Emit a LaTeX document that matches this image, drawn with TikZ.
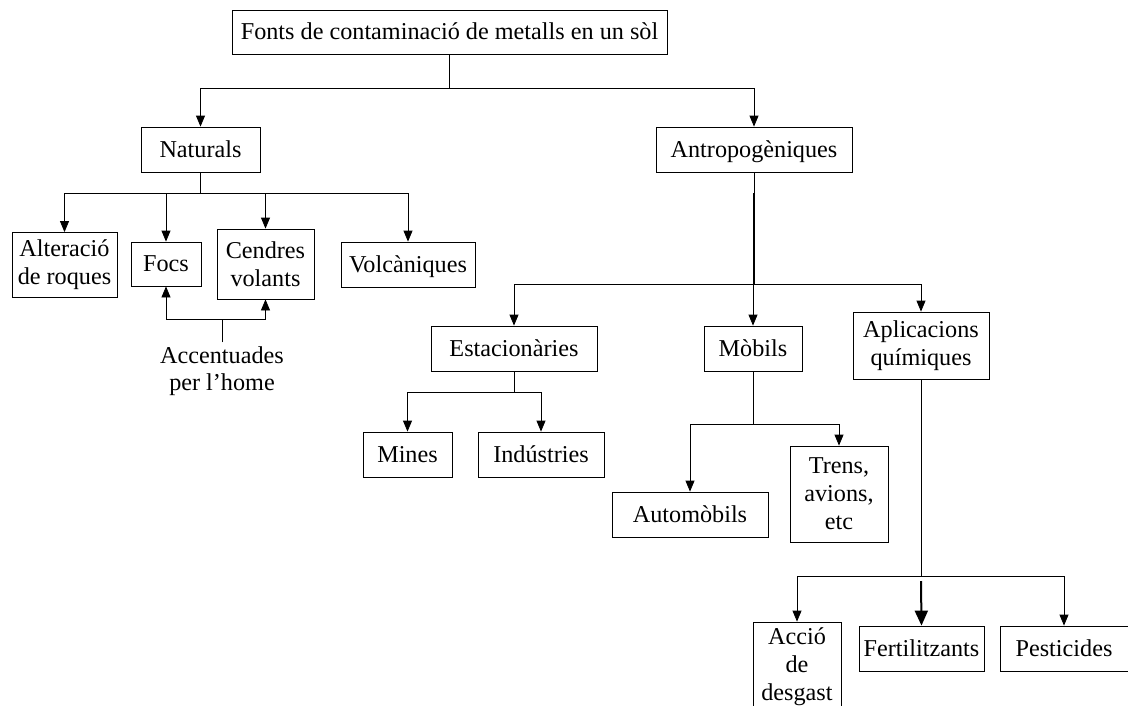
\documentclass[tikz,border=0pt]{standalone}
\usepackage{fontspec}
\setmainfont{Liberation Serif}
\usepackage{tikz}
\usetikzlibrary{arrows.meta,positioning}

\begin{document}
\begin{tikzpicture}[x=1pt, y=-1pt,
    box/.style={draw=black, line width=0.8pt, align=center, inner sep=0pt,
                font=\fontsize{24.2}{28}\selectfont},
    one/.style={box, text height=17pt, text depth=2pt},
    lbl/.style={align=center, inner sep=0pt, font=\fontsize{24.2}{27}\selectfont},
    ln/.style={line width=0.8pt},
    arr/.style={line width=0.8pt, -{Triangle[width=9pt,length=11pt]}},
    thk/.style={line width=2pt}]
   \useasboundingbox (0,0) rectangle (1128,705);
   \clip (0,0) rectangle (1128,705);

   % levels
   \node[one, minimum width=435, minimum height=44] (font) at (449.5,32) {Fonts de contaminació de metalls en un sòl};
   \node[one, minimum width=119, minimum height=45] (nat) at (200.5,149.5) {Naturals};
   \node[one, minimum width=196, minimum height=45] (ant) at (754,149.5) {Antropogèniques};

   \node[box, minimum width=105, minimum height=65] (alt) at (64.5,265) {Alteració\\de roques};
   \node[one, minimum width=70, minimum height=44] (focs) at (166,264) {Focs};
   \node[box, minimum width=97, minimum height=70] (cend) at (265.5,264) {Cendres\\volants};
   \node[one, minimum width=134, minimum height=45] (volc) at (408,264.5) {Volcàniques};
   \node[lbl] (home) at (222,371) {Accentuades\\per l’home};

   \node[one, minimum width=166, minimum height=45] (est) at (514,348.5) {Estacionàries};
   \node[one, minimum width=98, minimum height=45] (mob) at (753,348.5) {Mòbils};
   \node[box, minimum width=136, minimum height=67] (apl) at (921,345.5) {Aplicacions\\químiques};

   \node[one, minimum width=89, minimum height=45] (mines) at (407.5,454.5) {Mines};
   \node[one, minimum width=126, minimum height=45] (ind) at (541,454.5) {Indústries};
   \node[one, minimum width=156, minimum height=45] (auto) at (690,514.5) {Automòbils};
   \node[box, minimum width=98, minimum height=96] (trens) at (839,494) {Trens,\\avions,\\etc};

   \node[box, minimum width=88, minimum height=90] (accio) at (797,667) {Acció\\de\\desgast};
   \node[one, minimum width=125, minimum height=45] (fert) at (921.5,648.5) {Fertilitzants};
   \node[one, minimum width=128, minimum height=45] (pest) at (1064,648.5) {Pesticides};

   % connectors
   \draw[arr] (font.south) -- ++(0,34) -| (nat.north);
   \draw[arr] (font.south) -- ++(0,34) -| (ant.north);

   \draw[arr] (nat.south) -- ++(0,21) -| (alt.north);
   \draw[arr] (nat.south) -- ++(0,21) -| (focs.north);
   \draw[arr] (nat.south) -- ++(0,21) -| (cend.north);
   \draw[arr] (nat.south) -- ++(0,21) -| (volc.north);

   \coordinate (j1) at (222,319);
   \draw[ln] (home.north) ++(0,-4) -- (j1);
   \draw[arr] (j1) -| (focs.south);
   \draw[arr] (j1) -| (cend.south);

   \draw[arr] (ant.south) -- ++(0,112) -| (est.north);
   \draw[arr] (ant.south) -- ++(0,112) -| (mob.north);
   \draw[arr] (ant.south) -- ++(0,112) -| (apl.north);
   \draw[thk] (ant.south) ++(0,21) -- ++(0,91);

   \draw[arr] (est.south) -- ++(0,21) -| (mines.north);
   \draw[arr] (est.south) -- ++(0,21) -| (ind.north);

   \draw[arr] (mob.south) -- ++(0,53) -| (auto.north);
   \draw[arr] (mob.south) -- ++(0,53) -| (trens.north);

   \draw[arr] (apl.south) -- ++(0,197) -| (accio.north);
   \draw[arr] (apl.south) -- ++(0,197) -| (pest.north);
   \coordinate (j2) at (921,581);
   \draw[thk, -{Triangle[width=13pt,length=15pt]}] (j2) -- (fert.north);
\end{tikzpicture}
\end{document}
